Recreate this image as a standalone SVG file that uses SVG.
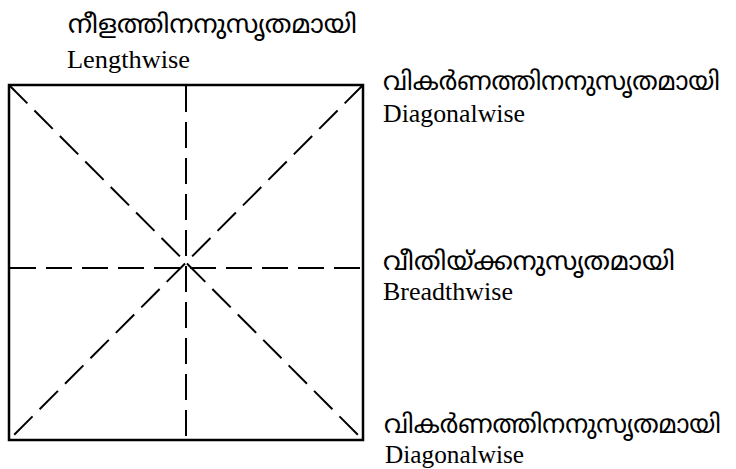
<svg xmlns="http://www.w3.org/2000/svg" width="736" height="469" viewBox="0 0 736 469">
<style>
.ml{font-family:"Noto Sans Malayalam","Noto Sans","DejaVu Sans",sans-serif;font-size:25.5px;fill:#000}
.en{font-family:"Liberation Serif","Times New Roman",serif;font-size:25px;fill:#000}
.dash{stroke:#000;stroke-width:2;stroke-dasharray:26 10;fill:none}
</style>
<rect width="736" height="469" fill="#fff"/>
<g id="square">
<rect x="9" y="85" width="354" height="355" fill="none" stroke="#000" stroke-width="2.5"/>
</g>
<g id="connectors">
<line class="dash" x1="186" y1="86" x2="186" y2="439"/>
<line class="dash" x1="10" y1="268" x2="362" y2="268"/>
<line class="dash" x1="9" y1="85" x2="363" y2="440"/>
<line class="dash" x1="363" y1="85" x2="9" y2="440"/>
</g>
<g id="label-length">
<text class="ml" x="68" y="33" textLength="289" lengthAdjust="spacingAndGlyphs">നീളത്തിനനുസൃതമായി</text>
<text class="en" x="67" y="68" textLength="123" lengthAdjust="spacingAndGlyphs">Lengthwise</text>
</g>
<g id="label-diag-top">
<text class="ml" x="383" y="90" textLength="337" lengthAdjust="spacingAndGlyphs">വികർണത്തിനനുസൃതമായി</text>
<text class="en" x="383" y="122" textLength="142" lengthAdjust="spacingAndGlyphs">Diagonalwise</text>
</g>
<g id="label-breadth">
<text class="ml" x="383" y="270" textLength="292" lengthAdjust="spacingAndGlyphs">വീതിയ്ക്കനുസൃതമായി</text>
<text class="en" x="383" y="300" textLength="130" lengthAdjust="spacingAndGlyphs">Breadthwise</text>
</g>
<g id="label-diag-bottom">
<text class="ml" x="384" y="433" textLength="337" lengthAdjust="spacingAndGlyphs">വികർണത്തിനനുസൃതമായി</text>
<text class="en" x="385" y="463" textLength="139" lengthAdjust="spacingAndGlyphs">Diagonalwise</text>
</g>
</svg>
